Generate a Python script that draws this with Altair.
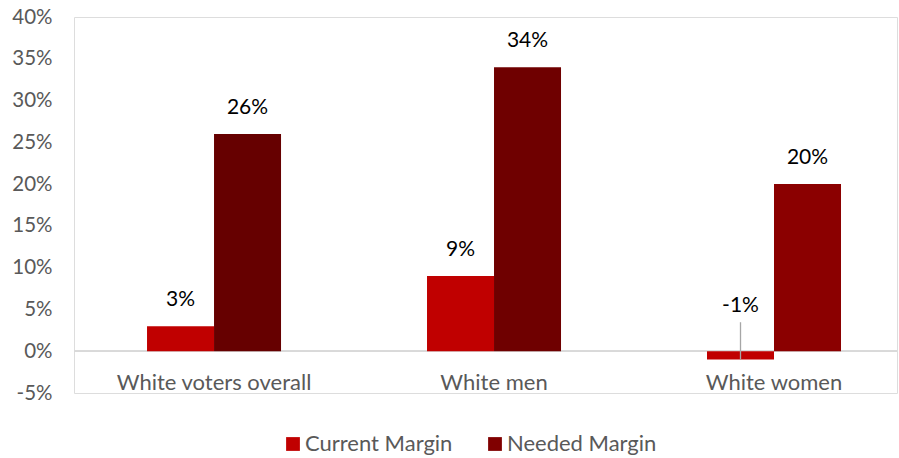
import altair as alt
import pandas as pd

categories = ["White voters overall", "White men", "White women"]
series = ["Current Margin", "Needed Margin"]
current_margin = [0.03, 0.09, -0.01]
needed_margin = [0.26, 0.34, 0.20]
current_colors = ["#c00000", "#c00000", "#c00000"]
needed_colors = ["#660000", "#6f0000", "#8b0000"]
legend_colors = ["#c00000", "#800000"]
y_ticks = [-0.05, 0.0, 0.05, 0.10, 0.15, 0.20, 0.25, 0.30, 0.35, 0.40]

rows = []
for i, c in enumerate(categories):
    rows.append(dict(category=c, series=series[0], value=current_margin[i], fill=current_colors[i]))
    rows.append(dict(category=c, series=series[1], value=needed_margin[i], fill=needed_colors[i]))
df = pd.DataFrame(rows)
df["label"] = [f"{round(v * 100):d}%" for v in df["value"]]
df["anchor"] = df["value"].clip(lower=0)

FONT = "Lato"
W, H = 823, 376
zero_px = H * (0.40 - 0.0) / (0.45)

x_enc = alt.X(
    "category:N",
    sort=categories,
    scale=alt.Scale(paddingInner=0.5214, paddingOuter=0.2304, align=0.566),
    axis=alt.Axis(
        title=None, labelAngle=0, domain=False, ticks=False,
        offset=-(H - zero_px), labelPadding=21, labelLimit=0,
        labelFont=FONT, labelFontSize=22, labelColor="#595959",
    ),
)
y_enc = alt.Y(
    "value:Q",
    scale=alt.Scale(domain=[-0.05, 0.40], nice=False, zero=False),
    axis=alt.Axis(
        title=None, values=y_ticks, grid=False, domain=False, ticks=False,
        labelPadding=22, labelFont=FONT, labelFontSize=20.5, labelColor="#595959",
        labelExpr="(datum.value < -0.0001 ? '-' : '') + format(abs(datum.value) * 100, '.0f') + '%'",
    ),
)
xoff = alt.XOffset("series:N", sort=series, scale=alt.Scale(paddingInner=0, paddingOuter=0))

base = alt.Chart(df)

zero_rule = base.mark_rule(color="#d9d9d9", strokeWidth=1.3).encode(
    y=alt.datum(0),
    x=alt.value(0),
    x2=alt.value(W),
)

bars = base.mark_bar().encode(
    x=x_enc,
    xOffset=xoff,
    y=y_enc,
    y2=alt.datum(0),
    fill=alt.Fill("fill:N", scale=None),
)

legend_layer = base.transform_filter("false").mark_bar().encode(
    x=alt.X("category:N", sort=categories),
    y=alt.Y("value:Q"),
    color=alt.Color(
        "series:N",
        sort=series,
        scale=alt.Scale(domain=series, range=legend_colors),
        legend=alt.Legend(
            title=None, orient="none", direction="horizontal",
            legendX=208, legendY=416, symbolType="square", symbolSize=190,
            symbolStrokeWidth=0, labelFont=FONT, labelFontSize=22,
            labelColor="#595959", columnPadding=31, labelOffset=1, padding=0,
            labelLimit=0,
        ),
    ),
)

labels_pos = base.transform_filter("datum.value >= 0").mark_text(
    font=FONT, fontSize=21, color="#000000", baseline="middle", dy=-26
).encode(x=alt.X("category:N", sort=categories), xOffset=xoff, y=alt.Y("anchor:Q"), text="label:N")

labels_neg = base.transform_filter("datum.value < 0").mark_text(
    font=FONT, fontSize=21, color="#000000", baseline="middle", dy=-45
).encode(x=alt.X("category:N", sort=categories), xOffset=xoff, y=alt.Y("anchor:Q"), text="label:N")

leader = base.transform_filter("datum.value < 0").mark_rule(
    color="#a6a6a6", strokeWidth=1.3, y2Offset=-29
).encode(x=alt.X("category:N", sort=categories), xOffset=xoff, y=alt.Y("value:Q"), y2=alt.Y2("anchor:Q"))

chart = (
    alt.layer(zero_rule, bars, legend_layer, leader, labels_pos, labels_neg)
    .properties(
        width=W, height=H,
        padding={"left": 74, "top": 17, "right": 2, "bottom": 65},
        autosize=alt.AutoSizeParams(type="none"),
    )
    .configure_view(strokeWidth=0, stroke="transparent")
    .configure(background="white")
)

chart.save("out.html", embed_options={"renderer": "svg", "actions": False})
